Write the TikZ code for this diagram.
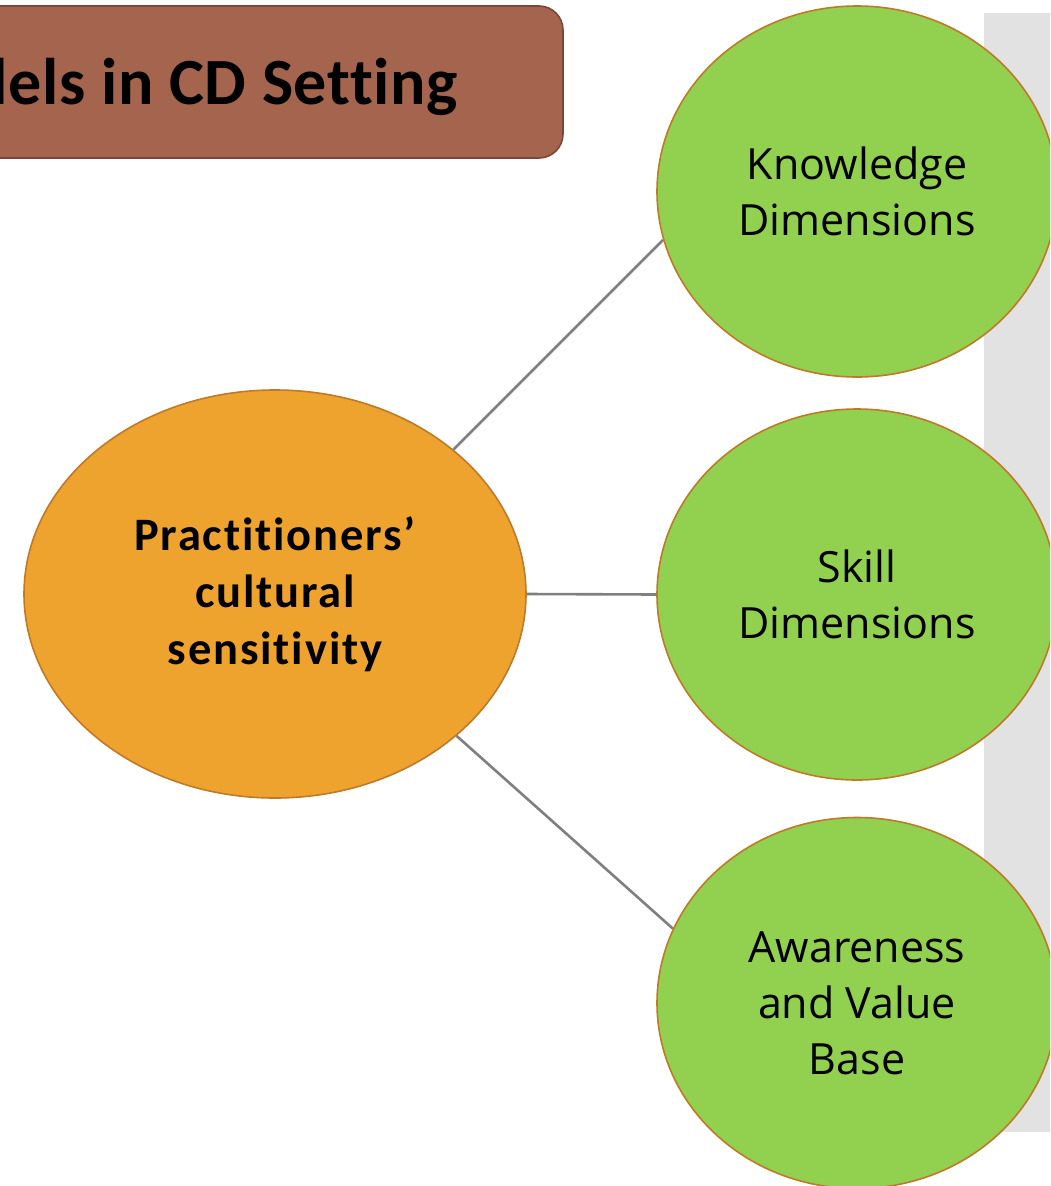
\documentclass[tikz,border=0pt]{standalone}
\usepackage{fontspec}
\setmainfont[Ligatures=NoCommon]{Carlito}
\newfontfamily\spacedfont[Ligatures=NoCommon,LetterSpace=4]{Carlito}
\newfontfamily\titlefont[Ligatures=NoCommon,LetterSpace=1]{Carlito}
\newfontfamily\greenfont{Open Sans}
\usetikzlibrary{shapes.geometric}
\definecolor{titlefill}{HTML}{A5644E}
\definecolor{titledraw}{HTML}{7E4636}
\definecolor{orangefill}{HTML}{EFA32F}
\definecolor{ovaldraw}{HTML}{BF7A28}
\definecolor{greenfill}{HTML}{92D050}
\definecolor{panelgray}{HTML}{E2E2E2}
\definecolor{linkgray}{HTML}{7F7F7F}
\tikzset{
  greenoval/.style={ellipse, draw=ovaldraw, line width=1.6pt, fill=greenfill,
    minimum width=400pt, minimum height=371pt, inner sep=0pt, align=center,
    font=\greenfont\fontsize{43}{56}\selectfont},
  orangeoval/.style={ellipse, draw=ovaldraw, line width=1.6pt, fill=orangefill,
    minimum width=502pt, minimum height=408pt, inner sep=0pt, align=center,
    font=\spacedfont\bfseries\fontsize{46.5}{57}\selectfont},
  titlebox/.style={rectangle, rounded corners=24pt, draw=titledraw, line width=1.6pt,
    fill=titlefill, minimum width=603pt, minimum height=152pt, inner sep=0pt},
  link/.style={draw=linkgray, line width=2.6pt},
}
\begin{document}
\begin{tikzpicture}[x=1pt,y=-1pt]
\useasboundingbox (0,0) rectangle (1050,1186);
\clip (0,0) rectangle (1050,1186);
\fill[panelgray] (984,13) rectangle (1060,1132);
\node[titlebox] (tbox) at (261.5,82) {};
\node[anchor=base east, inner sep=0pt, font=\titlefont\bfseries\fontsize{66}{70}\selectfont] (ttext) at (458,104) {Models in CD Setting};
\node[orangeoval] (o) at (275,594) {Practitioners’\\cultural\\sensitivity};
\node[greenoval] (k) at (857,191.5) {Knowledge\\Dimensions};
\node[greenoval] (s) at (857,594.5) {Skill\\Dimensions};
\node[greenoval] (a) at (857,1003) {Awareness\\and Value\\Base};
\draw[link] (o.39.2) -- (k.194.8);
\draw[link] (o.0) -- (s.180);
\draw[link] (o.-38) -- (a.158);
\end{tikzpicture}
\end{document}
